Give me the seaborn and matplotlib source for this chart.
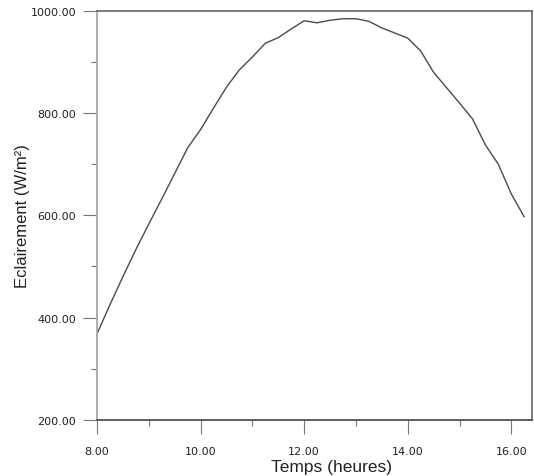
import matplotlib
matplotlib.use("Agg")
import matplotlib.pyplot as plt
from matplotlib.ticker import MultipleLocator, FormatStrFormatter
import seaborn as sns
import pandas as pd

hours = [8.00, 8.25, 8.50, 8.75, 9.00, 9.25, 9.50, 9.75, 10.00, 10.25, 10.50, 10.75,
         11.00, 11.25, 11.50, 11.75, 12.00, 12.25, 12.50, 12.75, 13.00, 13.25, 13.50,
         13.75, 14.00, 14.25, 14.50, 14.75, 15.00, 15.25, 15.50, 15.75, 16.00, 16.25]
irradiance = [368, 425, 480, 533, 583, 632, 682, 732, 768, 810, 851, 885,
              910, 937, 948, 965, 981, 977, 982, 985, 985, 980, 967,
              957, 947, 922, 880, 850, 820, 789, 738, 700, 642, 597]

xlabel = "Temps (heures)"
ylabel = "Eclairement (W/m²)"

df = pd.DataFrame({"t": hours, "e": irradiance})

sns.set_style("white")
fig = plt.figure(figsize=(5.34, 4.77), dpi=100)
ax = fig.add_axes([0.1816, 0.118, 0.8147, 0.8567])

sns.lineplot(data=df, x="t", y="e", ax=ax, color="#4a4a4a", linewidth=1.0)

ax.set_xlim(8.0, 16.4)
ax.set_ylim(200, 1000)
ax.xaxis.set_major_locator(MultipleLocator(2))
ax.xaxis.set_minor_locator(MultipleLocator(1))
ax.yaxis.set_major_locator(MultipleLocator(200))
ax.yaxis.set_minor_locator(MultipleLocator(100))
ax.xaxis.set_major_formatter(FormatStrFormatter("%.2f"))
ax.yaxis.set_major_formatter(FormatStrFormatter("%.2f"))

ax.tick_params(axis="both", which="major", direction="out", length=10, width=0.8,
               color="#777777", labelsize=8, labelcolor="#222222")
ax.tick_params(axis="both", which="minor", direction="out", length=4.5, width=0.8,
               color="#777777")
ax.tick_params(axis="x", which="major", pad=9)
ax.tick_params(axis="y", which="major", pad=5)
ax.tick_params(axis="both", which="both", bottom=True, left=True, top=False, right=False)

for side, sp in ax.spines.items():
    sp.set_visible(True)
    sp.set_linewidth(1.2)
ax.spines["top"].set_color("#666666")
ax.spines["right"].set_color("#666666")
ax.spines["bottom"].set_color("#444444")
ax.spines["left"].set_color("#aaaaaa")
ax.spines["left"].set_linestyle((0, (1, 0.6)))

ax.set_xlabel(xlabel, fontsize=12.5, family="Liberation Sans", color="#222222")
ax.set_ylabel(ylabel, fontsize=12, family="Liberation Sans", color="#222222")
ax.xaxis.set_label_coords(0.54, -0.095)
ax.yaxis.set_label_coords(-0.155, 0.5)

fig.savefig("out.png", dpi=100)
